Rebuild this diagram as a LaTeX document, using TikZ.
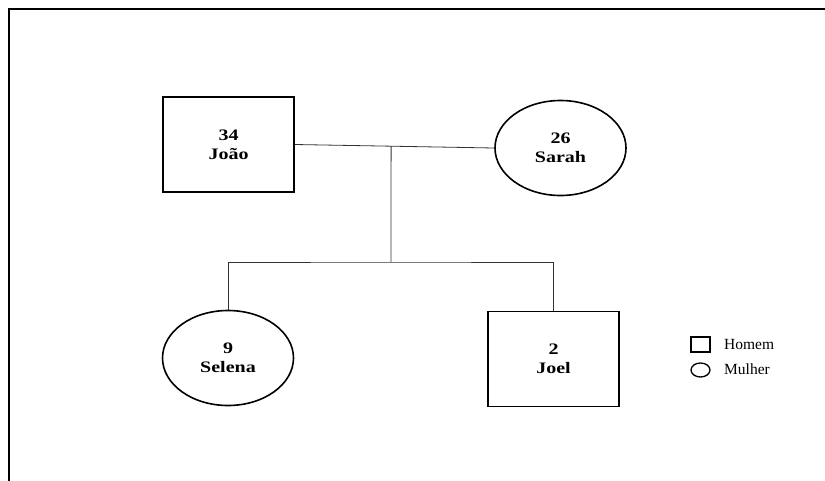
\documentclass[tikz,border=0pt]{standalone}
\usepackage{fontspec}
\usepackage{graphicx}
\setmainfont{Liberation Serif}
\usetikzlibrary{shapes.geometric,calc}
% wide bold labels inside the pedigree symbols
\newcommand{\widelabel}[2]{\scalebox{1.25}[1]{#1}\\\scalebox{1.25}[1]{#2}}
\tikzset{
  person/.style={draw=black, line width=1.6pt, inner sep=0pt,
    font=\fontsize{16}{19}\selectfont\bfseries, align=center},
  male/.style={person, rectangle, minimum width=131pt, minimum height=95pt},
  female/.style={person, ellipse, minimum width=131pt, minimum height=95pt},
  link/.style={draw=black!80, line width=0.8pt},
  keybox/.style={draw=black, line width=1.3pt, inner sep=0pt},
  keytext/.style={anchor=west, inner sep=0pt, font=\fontsize{15.5}{18}\selectfont},
  frame/.style={draw=black, line width=2.2pt}
}
\begin{document}
\begin{tikzpicture}[x=1pt,y=-1pt]
  \useasboundingbox (0,0) rectangle (825,480);
  % outer frame (only the top and left edges fall inside the page)
  \draw[frame] (9,481) -- (9,9) -- (826,9);

  % parents
  \node[male]   (joao)  at (228.5,144.5) {\widelabel{34}{João}};
  \node[female] (sarah) at (560.5,148)   {\widelabel{26}{Sarah}};
  % children
  \node[female] (selena) at (228,358)   {\widelabel{9}{Selena}};
  \node[male]   (joel)   at (553.5,359) {\widelabel{2}{Joel}};

  % marriage line and descent
  \draw[link] (joao.east) -- (sarah.west);
  \coordinate (m) at ($(joao.east)!0.483!(sarah.west)$);
  \coordinate (s) at (391,262);
  \draw[link] (m) -- (s);
  \draw[link] (selena.north) |- (s) -| (joel.north);

  % key
  \node[keybox, rectangle, minimum width=19pt, minimum height=15pt] (kmale) at (700.5,344.5) {};
  \node[keytext] (kmaletext) at (724,344.5) {Homem};
  \node[keybox, ellipse, minimum width=19pt, minimum height=14pt] (kfemale) at (700.5,370) {};
  \node[keytext] (kfemaletext) at (724,369.5) {Mulher};
\end{tikzpicture}
\end{document}
